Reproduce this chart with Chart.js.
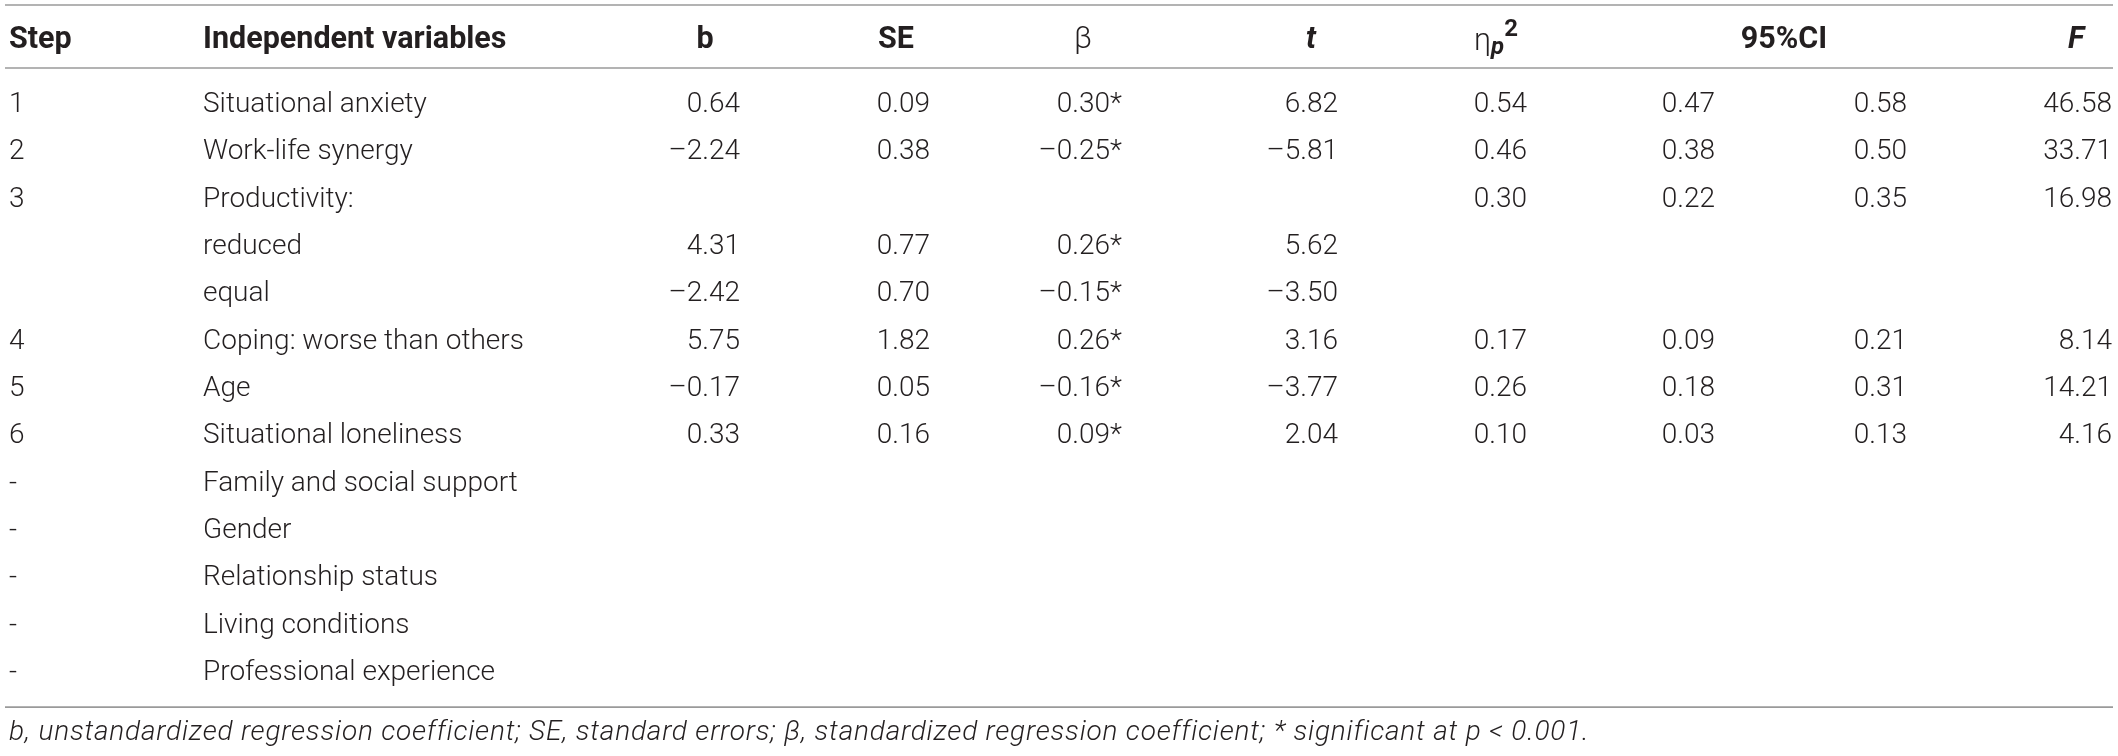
<!DOCTYPE html>
<html>
<head>
<meta charset="utf-8">
<script src="https://cdn.jsdelivr.net/npm/chart.js@4.4.1/dist/chart.umd.min.js"></script>
<style>
html,body{margin:0;padding:0;background:#fff;}
#wrap{width:2118px;height:756px;position:relative;}
</style>
</head>
<body>
<div id="wrap"><canvas id="c"></canvas></div>
<script>
// ---------- DATA ----------
const steps = ['1','2','3','','','4','5','6','-','-','-','-','-'];
const variables = ['Situational anxiety','Work-life synergy','Productivity:','reduced','equal',
  'Coping: worse than others','Age','Situational loneliness','Family and social support',
  'Gender','Relationship status','Living conditions','Professional experience'];
const bVals    = [0.64, -2.24, null, 4.31, -2.42, 5.75, -0.17, 0.33, null, null, null, null, null];
const seVals   = [0.09, 0.38, null, 0.77, 0.70, 1.82, 0.05, 0.16, null, null, null, null, null];
const betaVals = [0.30, -0.25, null, 0.26, -0.15, 0.26, -0.16, 0.09, null, null, null, null, null];
const tVals    = [6.82, -5.81, null, 5.62, -3.50, 3.16, -3.77, 2.04, null, null, null, null, null];
const etaVals  = [0.54, 0.46, 0.30, null, null, 0.17, 0.26, 0.10, null, null, null, null, null];
const ciLow    = [0.47, 0.38, 0.22, null, null, 0.09, 0.18, 0.03, null, null, null, null, null];
const ciHigh   = [0.58, 0.50, 0.35, null, null, 0.21, 0.31, 0.13, null, null, null, null, null];
const fVals    = [46.58, 33.71, 16.98, null, null, 8.14, 14.21, 4.16, null, null, null, null, null];
const footnote = 'b, unstandardized regression coefficient; SE, standard errors; \u03b2, standardized regression coefficient; * significant at p < 0.001.';

// ---------- LAYOUT (not data) ----------
const W = 2118, H = 756;
const ROWS = variables.length;
const FONT = '"Roboto", "Liberation Sans", sans-serif';
const FS = 28;
const HFS = 30.5;
const TXT = '#231f20';

function fmt(v, star){
  if (v === null) return null;
  let s = Math.abs(v).toFixed(2);
  if (v < 0) s = '\u2013' + s;
  return star ? s + '*' : s;
}

const columns = [
  {key:'step', texts: steps, x: 9, align:'left'},
  {key:'var', texts: variables, x: 203, align:'left'},
  {key:'b', texts: bVals.map(v=>fmt(v)), x: 740, align:'right'},
  {key:'se', texts: seVals.map(v=>fmt(v)), x: 930, align:'right'},
  {key:'beta', texts: betaVals.map(v=>fmt(v,true)), x: 1122, align:'right'},
  {key:'t', texts: tVals.map(v=>fmt(v)), x: 1338, align:'right'},
  {key:'eta', texts: etaVals.map(v=>fmt(v)), x: 1527, align:'right'},
  {key:'cil', texts: ciLow.map(v=>fmt(v)), x: 1715, align:'right'},
  {key:'cih', texts: ciHigh.map(v=>fmt(v)), x: 1907, align:'right'},
  {key:'f', texts: fVals.map(v=>fmt(v)), x: 2112, align:'right'}
];

const datasets = columns.map(col => ({
  label: col.key,
  align: col.align,
  data: col.texts.map((t,i) => (t === null || t === '') ? null : {x: col.x, y: i, txt: t}).filter(d => d),
  pointRadius: 0,
  showLine: false
}));

const Y_TOP_RULE = -2.113, Y_HEAD = -1.373, Y_HEAD_RULE = -0.782, Y_BOTTOM_RULE = 12.72, Y_FOOT = 13.27;

const tablePlugin = {
  id: 'tableText',
  afterDatasetsDraw(chart){
    const ctx = chart.ctx;
    const xs = chart.scales.x, ys = chart.scales.y;
    ctx.save();
    ctx.strokeStyle = '#9a9a9a';
    ctx.lineWidth = 1.6;
    [Y_TOP_RULE, Y_HEAD_RULE, Y_BOTTOM_RULE].forEach(v => {
      const py = ys.getPixelForValue(v);
      ctx.beginPath();
      ctx.moveTo(xs.getPixelForValue(5), py);
      ctx.lineTo(xs.getPixelForValue(2113), py);
      ctx.stroke();
    });
    ctx.fillStyle = TXT;
    ctx.textBaseline = 'middle';
    ctx.font = `300 ${FS}px ${FONT}`;
    chart.data.datasets.forEach((ds, di) => {
      const meta = chart.getDatasetMeta(di);
      ctx.textAlign = ds.align;
      meta.data.forEach((el, i) => {
        ctx.fillText(ds.data[i].txt, el.x, el.y);
      });
    });
    const hy = ys.getPixelForValue(Y_HEAD);
    const bold = `bold ${HFS}px ${FONT}`;
    const boldIt = `italic bold ${HFS}px ${FONT}`;
    function put(txt, x, align, font){
      ctx.font = font; ctx.textAlign = align;
      ctx.fillText(txt, xs.getPixelForValue(x), hy);
    }
    put('Step', 9, 'left', bold);
    put('Independent variables', 203, 'left', bold);
    put('b', 705, 'center', bold);
    put('SE', 896, 'center', bold);
    put('\u03b2', 1083, 'center', `300 ${HFS}px ${FONT}`);
    put('t', 1311, 'center', boldIt);
    put('95%CI', 1784, 'center', bold);
    put('F', 2076, 'center', boldIt);
    {
      ctx.textAlign = 'left';
      const etaF = `300 ${HFS}px ${FONT}`, subF = `italic bold ${Math.round(HFS*0.78)}px ${FONT}`, supF = `bold ${Math.round(HFS*0.78)}px ${FONT}`;
      ctx.font = etaF; const w1 = ctx.measureText('\u03b7').width;
      ctx.font = subF; const w2 = ctx.measureText('p').width;
      ctx.font = supF; const w3 = ctx.measureText('2').width;
      let x0 = xs.getPixelForValue(1496) - (w1 + w2 + w3)/2;
      ctx.font = etaF; ctx.fillText('\u03b7', x0, hy + 2);
      ctx.font = subF; ctx.fillText('p', x0 + w1, hy + 8);
      ctx.font = supF; ctx.fillText('2', x0 + w1 + w2, hy - 10);
    }
    ctx.font = `italic 300 ${FS}px ${FONT}`;
    ctx.textAlign = 'left';
    try { ctx.letterSpacing = '0.8px'; } catch(e) {}
    ctx.fillText(footnote, xs.getPixelForValue(9), ys.getPixelForValue(Y_FOOT));
    try { ctx.letterSpacing = '0px'; } catch(e) {}
    ctx.restore();
  }
};

const pitch = 47.333;
new Chart(document.getElementById('c'), {
  type: 'scatter',
  data: { datasets },
  options: {
    responsive: true,
    maintainAspectRatio: false,
    animation: false,
    events: [],
    layout: { padding: { top: 105 - pitch/2, bottom: H - (105 + (ROWS - 0.5)*pitch), left: 0, right: 0 } },
    scales: {
      x: { type: 'linear', min: 0, max: W, display: false },
      y: { type: 'linear', min: -0.5, max: ROWS - 0.5, reverse: true, display: false }
    },
    plugins: { legend: { display: false }, tooltip: { enabled: false }, title: { display: false } }
  },
  plugins: [tablePlugin]
});
</script>
</body>
</html>
